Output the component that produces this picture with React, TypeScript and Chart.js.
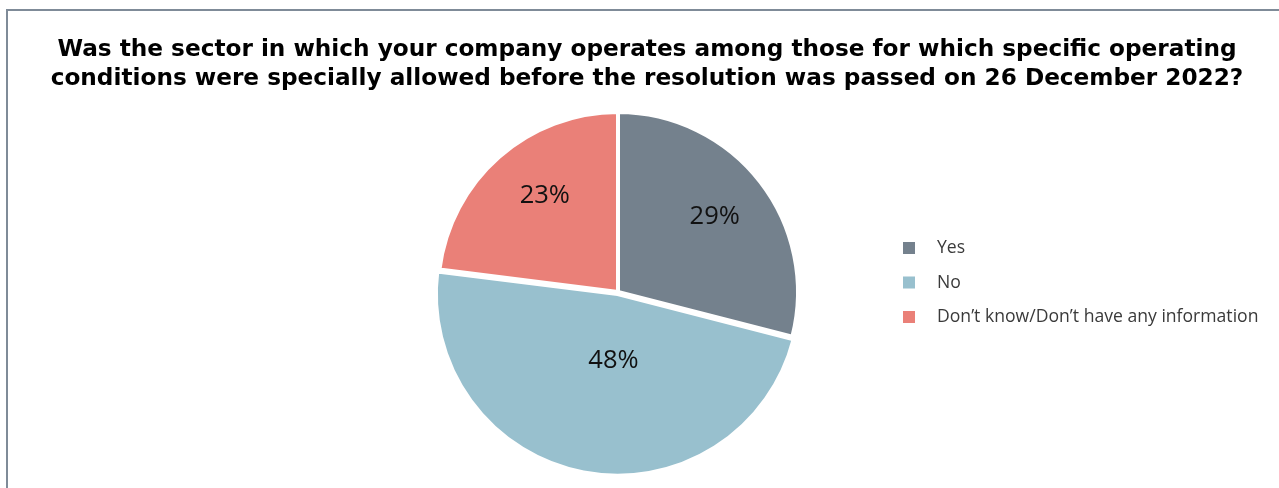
import React, { useEffect, useRef } from "react";
import { Chart, registerables } from "chart.js";

Chart.register(...registerables);

const titleLines = [
  "Was the sector in which your company operates among those for which specific operating",
  "conditions were specially allowed before the resolution was passed on 26 December 2022?",
];
const categories = ["Yes", "No", "Don\u2019t know/Don\u2019t have any information"];
const shares = [29, 48, 23];
const sliceColors = ["#74818d", "#98c0ce", "#ea8078"];

const titlePlugin = {
  id: "customTitle",
  afterDraw(chart: any) {
    const ctx = chart.ctx;
    ctx.save();
    ctx.fillStyle = "#000000";
    ctx.font = 'bold 23.2px "DejaVu Sans"';
    ctx.textAlign = "center";
    ctx.textBaseline = "alphabetic";
    ctx.fillText(titleLines[0], 647, 56);
    ctx.fillText(titleLines[1], 647, 85);
    ctx.restore();
  },
};

const labelPlugin = {
  id: "sliceLabels",
  afterDatasetsDraw(chart: any) {
    const ctx = chart.ctx;
    const meta = chart.getDatasetMeta(0);
    const place = [
      { r: 0.68, a: 0 },
      { r: 0.38, a: -7 },
      { r: 0.67, a: 4 },
    ];
    ctx.save();
    ctx.fillStyle = "#111111";
    ctx.font = '25.5px "Open Sans"';
    ctx.textAlign = "center";
    ctx.textBaseline = "middle";
    meta.data.forEach((arc: any, i: number) => {
      const p = arc.getProps(["x", "y", "startAngle", "endAngle", "outerRadius"], true);
      const mid = (p.startAngle + p.endAngle) / 2 + (place[i].a * Math.PI) / 180;
      const d = p.outerRadius * place[i].r;
      const x = p.x + Math.cos(mid) * d;
      const y = p.y + Math.sin(mid) * d;
      ctx.fillText(shares[i] + "%", x, y);
    });
    ctx.restore();
  },
};

const legendPlugin = {
  id: "sideLegend",
  afterDraw(chart: any) {
    const ctx = chart.ctx;
    ctx.save();
    ctx.font = '17.6px "Open Sans"';
    ctx.textBaseline = "middle";
    ctx.textAlign = "left";
    categories.forEach((c, i) => {
      const cy = 248 + i * 34.5;
      ctx.fillStyle = sliceColors[i];
      ctx.fillRect(903, cy - 6, 12, 12);
      ctx.fillStyle = "#3a3a3a";
      ctx.fillText(c, 937, cy);
    });
    ctx.restore();
  },
};

export default function App() {
  const canvasRef = useRef<HTMLCanvasElement>(null);

  useEffect(() => {
    if (!canvasRef.current) return;
    const chart = new Chart(canvasRef.current, {
      type: "pie",
      data: {
        labels: categories,
        datasets: [
          {
            data: shares,
            backgroundColor: sliceColors,
            borderColor: "#ffffff",
            borderWidth: 4,
            offset: [0, 8, 0],
            hoverOffset: 0,
          },
        ],
      },
      options: {
        responsive: false,
        animation: false,
        radius: 180,
        layout: { padding: { left: 0, right: 43, top: 96, bottom: 0 } },
        plugins: {
          legend: { display: false },
          title: { display: false },
          tooltip: { enabled: false },
        },
        events: [],
      } as any,
      plugins: [titlePlugin, labelPlugin, legendPlugin],
    });
    return () => chart.destroy();
  }, []);

  return (
    <div
      style={{
        position: "fixed",
        left: 0,
        top: 0,
        width: 1279,
        height: 488,
        overflow: "hidden",
        background: "#ffffff",
      }}
    >
      <div
        style={{
          position: "absolute",
          left: 6,
          top: 9,
          width: 1400,
          height: 600,
          border: "2px solid #7f8b98",
          boxSizing: "border-box",
        }}
      />
      <canvas
        ref={canvasRef}
        width={1279}
        height={488}
        style={{ position: "absolute", left: 0, top: 0, width: 1279, height: 488 }}
      />
    </div>
  );
}
